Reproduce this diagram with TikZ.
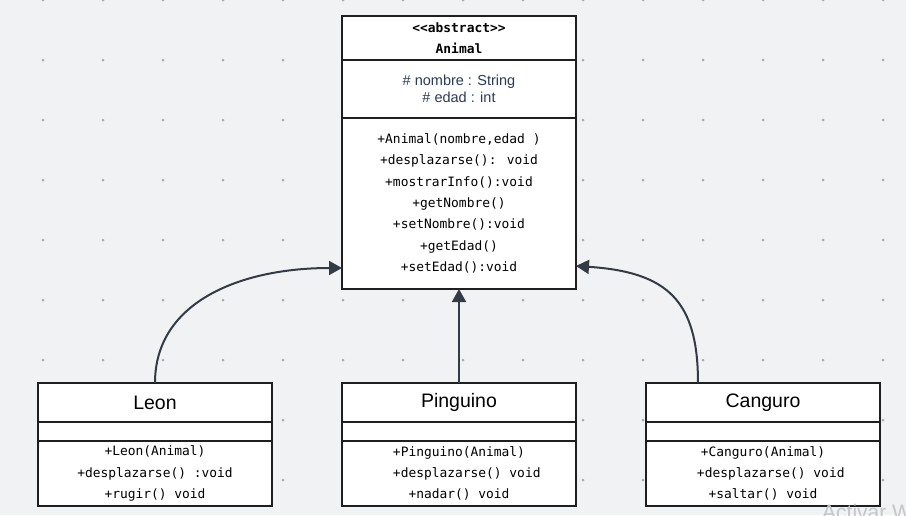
\documentclass[tikz,border=0pt]{standalone}
\usepackage{fontspec}
\setmainfont{Liberation Sans}
\newfontfamily\umlmono{DejaVu Sans Mono}
\usetikzlibrary{arrows.meta,positioning}
\definecolor{canvasbg}{RGB}{241,242,244}
\definecolor{griddot}{RGB}{170,171,176}
\definecolor{edgeink}{RGB}{52,59,69}
\definecolor{attrink}{RGB}{42,60,88}
\definecolor{winmark}{RGB}{196,197,200}

\begin{document}
\begin{tikzpicture}[
  x=1pt,y=-1pt,
  classpart/.style={draw=black!88,fill=white,line width=1.2pt,minimum width=234pt,
                    inner sep=0pt,outer sep=0pt,align=center},
  opsfont/.style={font=\umlmono\fontsize{12.9}{21.4}\selectfont},
  namefont/.style={font=\fontsize{19.5}{22}\selectfont},
  attrfont/.style={font=\fontsize{14.5}{17}\selectfont,text=attrink},
  inherit/.style={draw=edgeink,line width=2pt,-{Triangle[length=13pt,width=14pt]}}
]
\useasboundingbox (0,0) rectangle (906,515);
\fill[canvasbg] (0,0) rectangle (906,515);
\foreach \gx in {43,103,...,883}
  \foreach \gy in {0,60,...,480}
    \fill[griddot] (\gx,\gy) circle (1.5pt);

\node[classpart,minimum height=44pt,
      font=\umlmono\bfseries\fontsize{12.9}{21.4}\selectfont] (animal) at (459,38)
  {<\kern0pt<abstract>\kern0pt>\\Animal};
\node[classpart,attrfont,minimum height=58pt,below=0pt of animal] (animal-attr)
  {\#~nombre : String\\\#~edad : int};
\node[classpart,opsfont,minimum height=171pt,below=0pt of animal-attr] (animal-ops)
  {+Animal(nombre,edad )\\+desplazarse(): void\\+mostrarInfo():void\\+getNombre()\\
   +setNombre():void\\+getEdad()\\+setEdad():void};

\foreach \id/\cname/\cx/\opa/\opb/\opc in {
    leon/Leon/155/{+Leon(Animal)}/{+desplazarse() :void}/{+rugir() void},
    pinguino/Pinguino/459/{+Pinguino(Animal)}/{\phantom{++}+desplazarse() void}/{+nadar() void},
    canguro/Canguro/763/{+Canguro(Animal)}/{\phantom{++}+desplazarse() void}/{+saltar() void}}
{
  \node[classpart,namefont,minimum height=39pt] (\id) at (\cx,402.5) {\cname};
  \node[classpart,minimum height=19pt,below=0pt of \id] (\id-attr) {};
  \node[classpart,opsfont,minimum height=65pt,below=0pt of \id-attr] (\id-ops)
    {\opa\\\opb\\\opc};
}

\draw[inherit] (leon.north) .. controls +(0,-82) and +(-100,0) ..
  ([yshift=21pt]animal-ops.south west);
\draw[inherit] (pinguino.north) -- (animal-ops.south);
\draw[inherit] ([xshift=-65pt]canguro.north) .. controls +(0,-82) and +(92,6) ..
  ([yshift=23pt]animal-ops.south east);

\begin{scope}
  \clip (0,0) rectangle (906,515);
  \node[anchor=north west,inner sep=0pt,text=winmark,font=\fontsize{21}{24}\selectfont]
    (winmark) at (822,504) {Activar W};
\end{scope}
\end{tikzpicture}
\end{document}
